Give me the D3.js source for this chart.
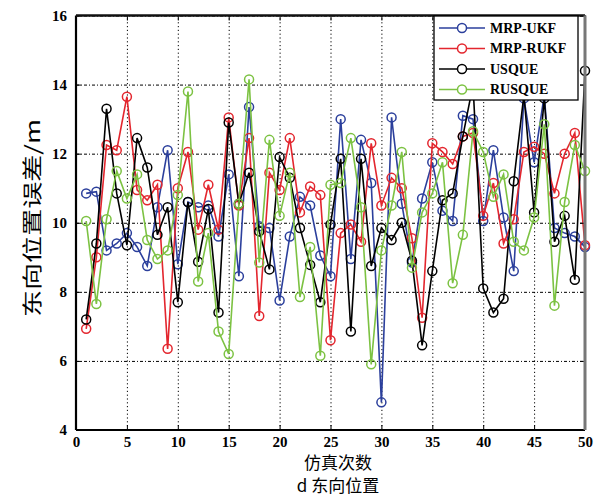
<!DOCTYPE html>
<html lang="zh">
<head>
    <meta charset="UTF-8">
    <title>东向位置</title>
    <script src="https://cdn.jsdelivr.net/npm/d3@7/dist/d3.min.js"></script>
    <style>
        body { margin: 0; background: #fff; }
    </style>
</head>
<body>
    <div id="chart"></div>

    <script>
        // data: run number 1..50, east position error (m)
        const runs = d3.range(1, 51);
        const mrpUkf = [10.85, 10.9, 9.2, 9.4, 9.7, 9.3, 8.75, 10.45, 12.1, 8.8,
            10.6, 10.45, 10.5, 9.6, 11.4, 8.45, 13.35, 9.9, 9.85, 7.75,
            9.6, 10.75, 10.5, 9.05, 8.45, 13.0, 8.95, 12.4, 11.15, 4.8,
            13.05, 10.55, 8.85, 10.7, 11.75, 10.35, 10.05, 13.1, 13.0, 10.05,
            12.1, 10.15, 8.6, 13.6, 11.75, 13.7, 9.85, 9.7, 9.6, 9.3];
        const mrpRukf = [6.93, 9.0, 12.25, 12.1, 13.65, 10.95, 10.65, 11.1, 6.35, 11.0,
            12.05, 9.8, 11.1, 9.8, 13.05, 10.5, 12.45, 7.3, 11.45, 10.95,
            12.45, 10.3, 11.05, 10.8, 6.6, 9.7, 9.95, 9.45, 12.3, 10.5,
            11.3, 11.0, 9.55, 7.25, 12.3, 12.05, 11.7, 12.5, 12.6, 10.2,
            11.15, 9.4, 10.1, 12.05, 12.2, 12.0, 10.85, 12.0, 12.6, 9.35];
        const usque = [7.2, 9.4, 13.3, 10.85, 9.35, 12.45, 11.6, 9.65, 10.45, 7.7,
            10.6, 8.87, 10.4, 7.4, 12.9, 10.55, 11.45, 9.75, 8.65, 11.9,
            11.3, 9.85, 8.78, 7.7, 9.95, 11.85, 6.85, 11.85, 8.75, 9.85,
            9.5, 10.0, 8.9, 6.45, 8.6, 10.65, 10.85, 12.5, 14.0, 8.1,
            7.4, 7.8, 11.2, 13.7, 10.3, 13.6, 9.45, 10.2, 8.35, 14.4];
        const rusque = [10.05, 7.65, 10.1, 11.5, 10.7, 11.4, 9.5, 8.95, 9.2, 10.8,
            13.8, 8.3, 9.7, 6.85, 6.2, 10.55, 14.15, 8.85, 12.4, 10.2,
            11.45, 7.85, 9.3, 6.15, 11.1, 11.15, 12.45, 10.45, 5.9, 9.2,
            10.5, 12.05, 8.7, 10.3, 10.85, 11.75, 8.25, 9.65, 12.65, 12.05,
            10.75, 11.4, 9.45, 9.2, 10.15, 12.85, 7.6, 10.6, 12.25, 11.5];

        const seriesNames = ["MRP-UKF", "MRP-RUKF", "USQUE", "RUSQUE"];
        const seriesColors = ["#2b3f9c", "#e3262e", "#000000", "#7cc242"];
        const xTicks = [0, 5, 10, 15, 20, 25, 30, 35, 40, 45, 50];
        const yTicks = [4, 6, 8, 10, 12, 14, 16];

        const allSeries = [mrpUkf, mrpRukf, usque, rusque];

        const serif = "'Liberation Serif', 'DejaVu Serif', serif";
        const cjk = "'Noto Sans CJK SC', sans-serif";

        const width = 603, height = 497;
        const plot = { left: 76, right: 585, top: 15.5, bottom: 430 };

        const svg = d3.select("#chart").append("svg")
            .attr("width", width)
            .attr("height", height);

        const x = d3.scaleLinear().domain([0, 50]).range([plot.left, plot.right]);
        const y = d3.scaleLinear().domain([4, 16]).range([plot.bottom, plot.top]);

        // grid lines (dotted)
        svg.append("g")
            .attr("transform", `translate(0,${plot.bottom})`)
            .call(d3.axisBottom(x).tickValues(xTicks).tickSize(-(plot.bottom - plot.top)).tickFormat(""))
            .call(g => g.select(".domain").remove())
            .selectAll("line")
            .attr("stroke", "#000")
            .attr("stroke-width", 1)
            .attr("stroke-dasharray", "1.2,2.6");

        svg.append("g")
            .attr("transform", `translate(${plot.left},0)`)
            .call(d3.axisLeft(y).tickValues(yTicks).tickSize(-(plot.right - plot.left)).tickFormat(""))
            .call(g => g.select(".domain").remove())
            .selectAll("line")
            .attr("stroke", "#000")
            .attr("stroke-width", 1)
            .attr("stroke-dasharray", "3,2,1,2");

        // series lines + circle markers
        const line = d3.line()
            .x((d, i) => x(runs[i]))
            .y(d => y(d));

        allSeries.forEach((values, k) => {
            svg.append("path")
                .datum(values)
                .attr("fill", "none")
                .attr("stroke", seriesColors[k])
                .attr("stroke-width", 1.6)
                .attr("d", line);

            svg.append("g")
                .selectAll("circle")
                .data(values)
                .join("circle")
                .attr("cx", (d, i) => x(runs[i]))
                .attr("cy", d => y(d))
                .attr("r", 4.5)
                .attr("fill", "none")
                .attr("stroke", seriesColors[k])
                .attr("stroke-width", 1.5);
        });

        // axes: inward ticks with labels
        const bottomAxis = svg.append("g")
            .attr("transform", `translate(0,${plot.bottom})`)
            .call(d3.axisBottom(x).tickValues(xTicks).tickSizeInner(-5).tickSizeOuter(0).tickPadding(6));

        const leftAxis = svg.append("g")
            .attr("transform", `translate(${plot.left},0)`)
            .call(d3.axisLeft(y).tickValues(yTicks).tickSizeInner(-5).tickSizeOuter(0).tickPadding(9));

        [bottomAxis, leftAxis].forEach(g => {
            g.attr("font-family", serif).attr("font-size", 15).attr("font-weight", "bold");
            g.select(".domain").remove();
            g.selectAll("text").attr("fill", "#000");
        });

        svg.append("g")
            .attr("transform", `translate(0,${plot.top})`)
            .call(d3.axisTop(x).tickValues(xTicks).tickSizeInner(-5).tickSizeOuter(0).tickFormat(""))
            .select(".domain").remove();
        svg.append("g")
            .attr("transform", `translate(${plot.right},0)`)
            .call(d3.axisRight(y).tickValues(yTicks).tickSizeInner(-5).tickSizeOuter(0).tickFormat(""))
            .select(".domain").remove();

        // frame
        svg.append("line").attr("x1", plot.left).attr("x2", plot.right)
            .attr("y1", plot.bottom).attr("y2", plot.bottom)
            .attr("stroke", "#000").attr("stroke-width", 2.2);
        svg.append("line").attr("x1", plot.left).attr("x2", plot.left)
            .attr("y1", plot.top).attr("y2", plot.bottom)
            .attr("stroke", "#000").attr("stroke-width", 2.2);
        svg.append("line").attr("x1", plot.left).attr("x2", plot.right)
            .attr("y1", plot.top).attr("y2", plot.top)
            .attr("stroke", "#111").attr("stroke-width", 2.5);
        svg.append("line").attr("x1", plot.right).attr("x2", plot.right)
            .attr("y1", plot.top).attr("y2", plot.bottom)
            .attr("stroke", "#777").attr("stroke-width", 3);

        // legend
        const legend = svg.append("g").attr("transform", "translate(434,16)");
        legend.append("rect")
            .attr("width", 144)
            .attr("height", 84)
            .attr("fill", "#fff")
            .attr("stroke", "#000")
            .attr("stroke-width", 1.3);

        seriesNames.forEach((name, k) => {
            const row = legend.append("g").attr("transform", `translate(0,${12 + k * 20.5})`);
            row.append("line")
                .attr("x1", 5).attr("x2", 51)
                .attr("stroke", seriesColors[k])
                .attr("stroke-width", 1.6);
            row.append("circle")
                .attr("cx", 28).attr("r", 4.5)
                .attr("fill", "#fff")
                .attr("stroke", seriesColors[k])
                .attr("stroke-width", 1.5);
            row.append("text")
                .attr("x", 56)
                .attr("dy", "0.35em")
                .attr("font-family", serif)
                .attr("font-weight", "bold")
                .attr("font-size", 14)
                .text(name);
        });

        // axis titles
        svg.append("text")
            .attr("font-family", cjk)
            .attr("text-anchor", "middle")
            .attr("transform", "translate(40,218) rotate(-90)")
            .attr("font-size", 20)
            .attr("textLength", 198)
            .attr("lengthAdjust", "spacingAndGlyphs")
            .text("东向位置误差/m");

        svg.append("text")
            .attr("font-family", cjk)
            .attr("text-anchor", "middle")
            .attr("x", 338)
            .attr("y", 469)
            .attr("font-size", 17)
            .text("仿真次数");

        svg.append("text")
            .attr("font-family", cjk)
            .attr("text-anchor", "middle")
            .attr("x", 338)
            .attr("y", 492)
            .attr("font-size", 17)
            .text("d  东向位置");
    </script>
</body>
</html>
